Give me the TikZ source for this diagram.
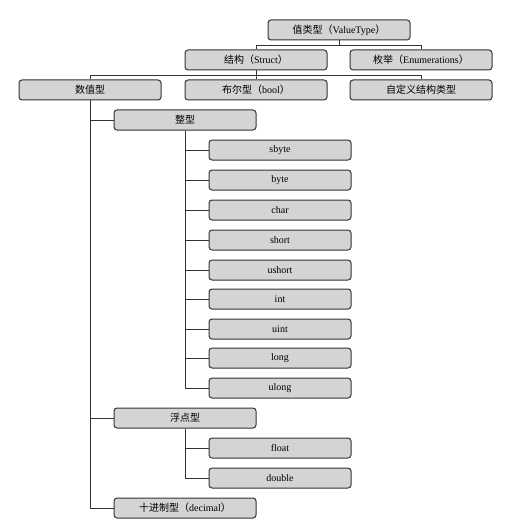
\documentclass[tikz,border=0pt]{standalone}
\usepackage{fontspec}
\setmainfont{Liberation Serif}
\newfontfamily\cjk{Noto Sans CJK SC}
\usepackage{tikz}
\usetikzlibrary{positioning}
\definecolor{BoxFill}{HTML}{D4D4D4}
\definecolor{BoxLine}{HTML}{333333}

\begin{document}
\begin{tikzpicture}[x=1pt, y=-1pt,
  every node/.style={font=\fontsize{10}{12}\selectfont, align=center},
  tbox/.style={draw=BoxLine, fill=BoxFill, line width=1pt, rounded corners=3pt,
               minimum width=142pt, minimum height=20pt, inner sep=0pt},
  link/.style={draw=BoxLine, line width=1pt}]
  \useasboundingbox (0,0) rectangle (515,524);
  % top levels
  \node[tbox] (vt)    at (339,30) {{\cjk 值类型（}ValueType{\cjk ）}};
  \node[tbox] (st)    at (256,60) {{\cjk 结构（}Struct{\cjk ）}};
  \node[tbox] (en)    at (421,60) {{\cjk 枚举（}Enumerations{\cjk ）}};
  \node[tbox] (num)   at (90,90)  {{\cjk 数值型}};
  \node[tbox] (bool)  at (256,90) {{\cjk 布尔型（}bool{\cjk ）}};
  \node[tbox] (user)  at (421,90) {{\cjk 自定义结构类型}};
  % numeric kinds
  \node[tbox] (intg)  at (185,120) {{\cjk 整型}};
  \node[tbox] (flt)   at (185,418) {{\cjk 浮点型}};
  \node[tbox] (dec)   at (185,508) {{\cjk 十进制型（}decimal{\cjk ）}};
  \foreach \name/\yy in {sbyte/150, byte/180, char/210, short/240, ushort/270,
                         int/299, uint/329, long/358, ulong/388} {
    \node[tbox] (t-\name) at (280,\yy) {\name};
    \draw[link] (intg.south) |- (t-\name.west);
  }
  \node[tbox] (t-float)  at (280,448) {float};
  \node[tbox] (t-double) at (280,478) {double};
  % connectors
  \draw[link] (vt.south) -- ++(0,5) -| (st.north);
  \draw[link] (vt.south) -- ++(0,5) -| (en.north);
  \draw[link] (st.south) -- ++(0,5) -| (num.north);
  \draw[link] (st.south) -- ++(0,5) -| (bool.north);
  \draw[link] (st.south) -- ++(0,5) -| (user.north);
  \draw[link] (num.south) |- (intg.west);
  \draw[link] (num.south) |- (flt.west);
  \draw[link] (num.south) |- (dec.west);
  \draw[link] (flt.south) |- (t-float.west);
  \draw[link] (flt.south) |- (t-double.west);
\end{tikzpicture}
\end{document}
